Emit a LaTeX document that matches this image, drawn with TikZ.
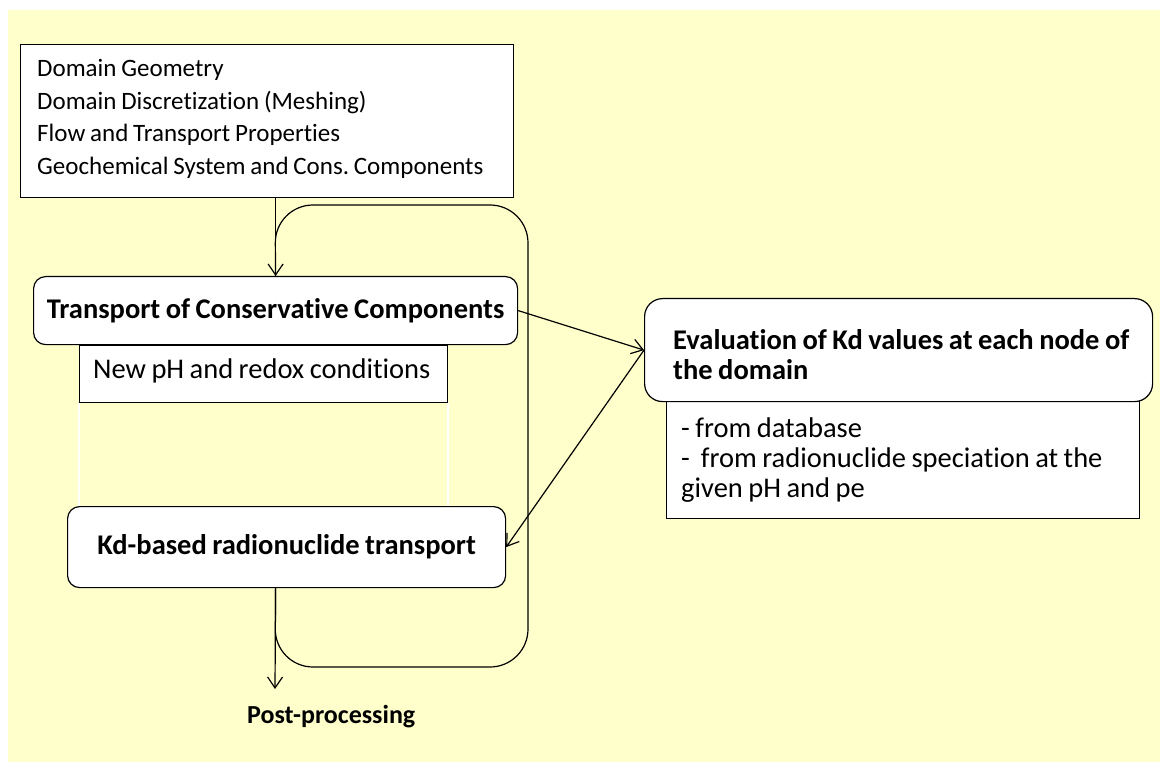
\documentclass[tikz,border=0pt]{standalone}
\usepackage{fontspec}
\setmainfont{Carlito}[Ligatures=NoCommon, WordSpace=0.85]
\usetikzlibrary{arrows.meta}
\definecolor{bgyellow}{HTML}{FFFFCC}
\frenchspacing
\begin{document}
\begin{tikzpicture}[x=1pt,y=-1pt,
  frame/.style={draw=black, line width=1.2pt, fill=white, inner sep=0pt, anchor=north west},
  rframe/.style={frame, rounded corners=12pt},
  stxt/.style={inner sep=0pt, font=\fontsize{25}{31}\selectfont},
  txt/.style={inner sep=0pt, font=\fontsize{28.5}{31}\selectfont},
  btxt/.style={inner sep=0pt, font=\fontsize{28.5}{31}\selectfont\bfseries},
  bigb/.style={font=\fontsize{28.5}{31}\selectfont\bfseries},
  conn/.style={draw=black, line width=1.2pt},
  arr/.style={conn, -{Straight Barb[length=11pt,width=15pt,line width=1.2pt]}},
  gap/.style={draw=white, line width=2pt}
]
\useasboundingbox (0,0) rectangle (1160,762);
\fill[bgyellow] (8,10) rectangle (1160,762);

% set-up box
\node[frame, minimum width=493pt, minimum height=153pt] (setup) at (20,44) {};
\node[stxt, anchor=base west] (s1) at (37,77) {Domain Geometry};
\node[stxt, anchor=base west] (s2) at (37,109.5) {Domain Discretization (Meshing)};
\node[stxt, anchor=base west] (s3) at (37,142) {Flow and Transport Properties};
\node[stxt, anchor=base west] (s4) at (37,174.5) {Geochemical System and Cons. Components};

% new pH box
\node[frame, minimum width=368pt, minimum height=57pt] (newph) at (79,345) {};
\node[txt, anchor=base west] (newphT) at (93,378) {New pH and redox conditions};

% transport box
\node[rframe, bigb, minimum width=484pt, minimum height=68pt] (transport) at (33,276) {Transport of Conservative Components};

% kd box
\node[rframe, bigb, minimum width=438pt, minimum height=81pt] (kd) at (67,506) {Kd-based radionuclide transport};

% white side lines
\draw[gap] (newph.south west) -- (newph.south west |- kd.north);
\draw[gap] (newph.south east) -- (newph.south east |- kd.north);

% evaluation boxes
\node[frame, minimum width=473pt, minimum height=117pt] (evalsub) at (666,401) {};
\node[rframe, rounded corners=18pt, minimum width=508pt, minimum height=103pt] (eval) at (644,298) {};
\node[btxt, anchor=base west] (e1) at (673,349) {Evaluation of Kd values at each node of};
\node[btxt, anchor=base west] (e2) at (673,379) {the domain};
\node[txt, anchor=base west] (d1) at (681,437) {- from database};
\node[txt, anchor=base west] (d2) at (681,467) {-\ \ from radionuclide speciation at the};
\node[txt, anchor=base west] (d3) at (681,497) {given pH and pe};

% post-processing
\node[inner sep=0pt, font=\fontsize{26}{30}\selectfont\bfseries, anchor=base west] (post) at (247,723) {Post-processing};
\coordinate (postin) at (275,689);

% connectors
\draw[conn, rounded corners=38pt] (kd.south -| transport.north) -- (275,667) -- (528,667) -- (528,205) -- (275,205) -- (transport.north);
\draw[arr] (setup.south -| transport.north) -- (transport.north);
\draw[arr] (kd.south -| transport.north) -- (postin);
\draw[arr] (transport.east) -- (eval.west);
\draw[arr] (eval.west) -- (kd.east);
\end{tikzpicture}
\end{document}
